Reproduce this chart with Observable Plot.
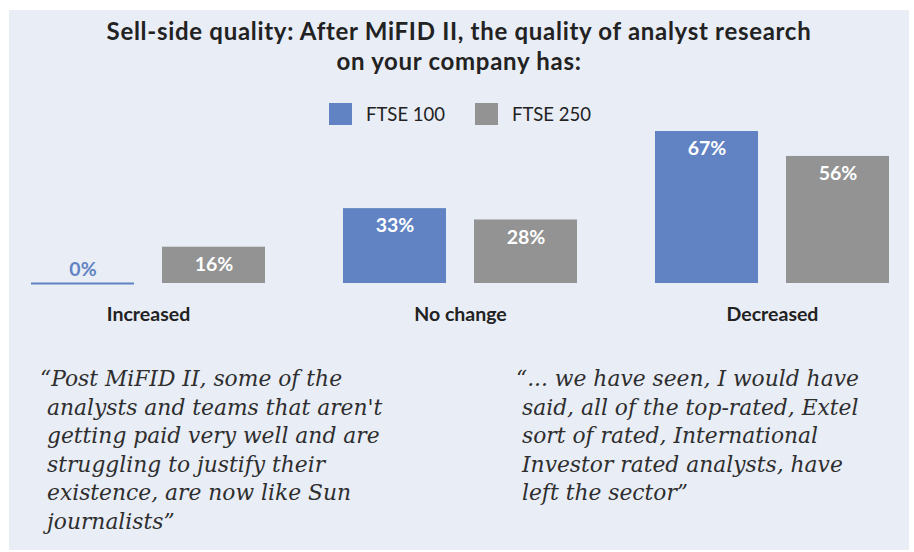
<!DOCTYPE html>
<html>
<head>
<meta charset="utf-8">
<script src="https://cdn.jsdelivr.net/npm/d3@7"></script>
<script src="https://cdn.jsdelivr.net/npm/@observablehq/plot@0.6"></script>
<style>
  html, body { margin:0; padding:0; background:#ffffff; width:914px; height:552px; overflow:hidden; }
  #panel { position:absolute; left:9px; top:10px; width:900px; height:540px; background:#e9edf6; }
  #title { position:absolute; left:9px; width:900px; top:16px; text-align:center; font-family:"Lato", sans-serif; font-weight:bold; font-size:24px; letter-spacing:0.7px; line-height:30px; color:#222; }
  #legend { position:absolute; left:0; width:914px; top:103px; display:flex; justify-content:center; align-items:center; font-family:"Lato", sans-serif; font-size:18.5px; color:#222; padding-left:6px; box-sizing:border-box; }
  .sw { width:23px; height:22px; display:inline-block; margin-right:14px; }
  .item { display:flex; align-items:center; margin:0 15px; }
  #chart { position:absolute; left:0; top:110px; }
  .quote { position:absolute; top:365px; font-family:"DejaVu Serif", serif; font-style:italic; font-size:21.8px; line-height:28.6px; color:#2e2e2e; white-space:nowrap; }
</style>
</head>
<body>
<div id="panel"></div>
<div id="title">Sell-side quality: After MiFID II, the quality of analyst research<br>on your company has:</div>
<div id="legend"></div>
<div id="chart"></div>
<div class="quote" id="q1" style="left:47px; text-indent:-7px;"></div>
<div class="quote" id="q2" style="left:522px; text-indent:-6px;"></div>
<script>
const categories = ["Increased", "No change", "Decreased"];
const series = ["FTSE 100", "FTSE 250"];
const ftse100 = [0, 33, 67];
const ftse250 = [16, 28, 56];
const seriesColors = ["#6183c3", "#939393"];
const quote1 = ["“Post MiFID II, some of the", "analysts and teams that aren't", "getting paid very well and are", "struggling to justify their", "existence, are now like Sun", "journalists”"];
const quote2 = ["“... we have seen, I would have", "said, all of the top-rated, Extel", "sort of rated, International", "Investor rated analysts, have", "left the sector”"];

const data = categories.flatMap((c, i) => [
  {category: c, series: series[0], value: ftse100[i]},
  {category: c, series: series[1], value: ftse250[i]}
]);

// legend
const legend = document.getElementById("legend");
series.forEach((s, i) => {
  const it = document.createElement("div");
  it.className = "item";
  it.innerHTML = `<span class="sw" style="background:${seriesColors[i]}"></span><span>${s}</span>`;
  legend.appendChild(it);
});

// quotes
document.getElementById("q1").innerHTML = quote1.join("<br>");
document.getElementById("q2").innerHTML = quote2.join("<br>");

const chart = Plot.plot({
  width: 914,
  height: 220,
  marginLeft: 29,
  marginRight: 24,
  marginTop: 21,
  marginBottom: 47,
  style: {background: "transparent", fontFamily: "Lato, sans-serif", overflow: "visible"},
  fx: {domain: categories, paddingInner: 0.245, paddingOuter: 0, label: null, axis: null},
  x: {domain: series, paddingInner: 0.212, paddingOuter: 0, axis: null},
  y: {domain: [0, 67], axis: null},
  color: {domain: series, range: seriesColors},
  marks: [
    Plot.barY(data, {fx: "category", x: "series", y: "value", fill: "series"}),
    Plot.tickY(data.filter(d => d.value === 0), {fx: "category", x: "series", y: "value", stroke: "series", strokeWidth: 2}),
    Plot.text(data.filter(d => d.value > 0), {fx: "category", x: "series", y: "value", text: d => d.value + "%", lineAnchor: "top", dy: 10, fill: "white", fontSize: 19.5, fontWeight: "bold"}),
    Plot.text(data.filter(d => d.value === 0), {fx: "category", x: "series", y: "value", text: d => d.value + "%", lineAnchor: "bottom", dy: -8, fill: "series", fontSize: 19.5, fontWeight: "bold"}),
    Plot.axisFx({anchor: "bottom", tickSize: 0, tickPadding: 24, fontSize: 19.5, fontWeight: "bold", fill: "#222", label: null})
  ]
});
document.getElementById("chart").appendChild(chart);
</script>
</body>
</html>
